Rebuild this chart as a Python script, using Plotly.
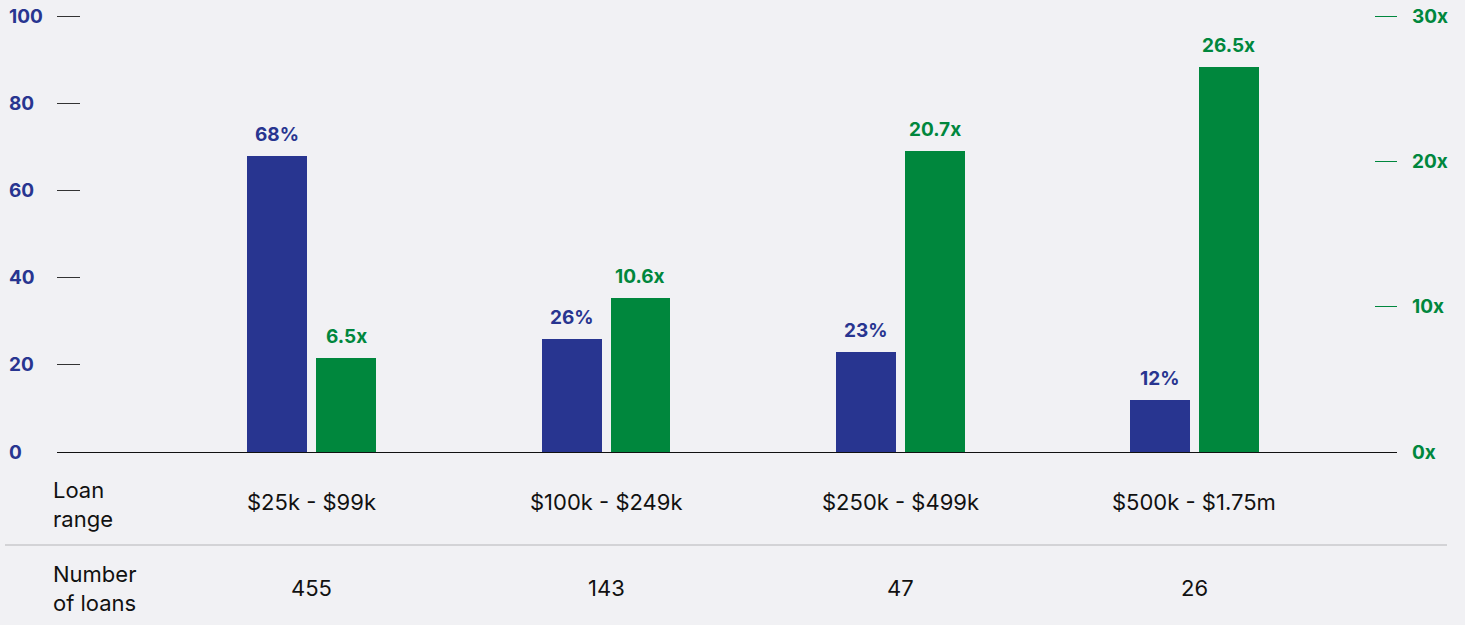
import plotly.graph_objects as go

# Data
loan_ranges = ["$25k - $99k", "$100k - $249k", "$250k - $499k", "$500k - $1.75m"]
share_pct = [68, 26, 23, 12]
multiple_x = [6.5, 10.6, 20.7, 26.5]
loan_counts = [455, 143, 47, 26]
left_ticks = [0, 20, 40, 60, 80, 100]
right_ticks = [0, 10, 20, 30]

BLUE = "#283590"
GREEN = "#00873D"
BG = "#F1F1F4"
FONT = "Inter"
BOLD_SIZE = 19
TEXT_SIZE = 22

xs = list(range(len(loan_ranges)))
bar_w = 0.204
gap = 0.0306

fig = go.Figure()
fig.add_trace(go.Bar(
    x=xs, y=share_pct, width=bar_w, offset=-bar_w - gap / 2,
    marker=dict(color=BLUE, line=dict(width=0)), yaxis="y", showlegend=False,
))
fig.add_trace(go.Bar(
    x=xs, y=multiple_x, width=bar_w, offset=gap / 2,
    marker=dict(color=GREEN, line=dict(width=0)), yaxis="y2", showlegend=False,
))

ann = []
# value labels above bars
for i, v in enumerate(share_pct):
    ann.append(dict(x=i - bar_w / 2 - gap / 2, y=v, xref="x", yref="y", text=f"<b>{v}%</b>",
                    showarrow=False, yanchor="bottom", yshift=8,
                    font=dict(family=FONT, size=BOLD_SIZE, color=BLUE)))
for i, v in enumerate(multiple_x):
    ann.append(dict(x=i + bar_w / 2 + gap / 2, y=v, xref="x", yref="y2", text=f"<b>{v}x</b>",
                    showarrow=False, yanchor="bottom", yshift=8,
                    font=dict(family=FONT, size=BOLD_SIZE, color=GREEN)))
# axis labels
for t in left_ticks:
    ann.append(dict(x=-0.0373, y=t, xref="paper", yref="y", text=f"<b>{t}</b>",
                    showarrow=False, xanchor="left", yanchor="middle",
                    font=dict(family=FONT, size=BOLD_SIZE, color=BLUE)))
for t in right_ticks:
    ann.append(dict(x=1.0097, y=t, xref="paper", yref="y2", text=f"<b>{t}x</b>",
                    showarrow=False, xanchor="left", yanchor="middle",
                    font=dict(family=FONT, size=BOLD_SIZE, color=GREEN)))
# table rows under the chart
for i, (lab, n) in enumerate(zip(loan_ranges, loan_counts)):
    ann.append(dict(x=i, y=0, xref="x", yref="paper", text=lab, showarrow=False,
                    yanchor="middle", yshift=-50,
                    font=dict(family=FONT, size=TEXT_SIZE, color="#111111")))
    ann.append(dict(x=i, y=0, xref="x", yref="paper", text=str(n), showarrow=False,
                    yanchor="middle", yshift=-136,
                    font=dict(family=FONT, size=TEXT_SIZE, color="#111111")))
ann.append(dict(x=-0.0045, y=0, xref="paper", yref="paper", text="Loan<br>range",
                showarrow=False, xanchor="left", yanchor="middle", align="left", yshift=-52,
                font=dict(family=FONT, size=TEXT_SIZE, color="#111111")))
ann.append(dict(x=-0.0045, y=0, xref="paper", yref="paper", text="Number<br>of loans",
                showarrow=False, xanchor="left", yanchor="middle", align="left", yshift=-136,
                font=dict(family=FONT, size=TEXT_SIZE, color="#111111")))

# plot area extends a few px above the top tick so that tick is drawn
fig.update_layout(
    width=1465, height=625,
    margin=dict(l=57, r=68, t=10, b=173),
    paper_bgcolor=BG, plot_bgcolor=BG,
    bargap=0, annotations=ann,
    xaxis=dict(range=[-0.867, 3.69], showgrid=False, zeroline=False,
               showticklabels=False, ticks="", showline=True,
               linecolor="#111111", linewidth=1),
    yaxis=dict(range=[0, 101.376], showgrid=False, zeroline=False, showticklabels=False,
               ticks="inside", ticklen=23, tickwidth=1, tickcolor="#333333",
               tickvals=[20, 40, 60, 80, 100]),
    yaxis2=dict(range=[0, 30.413], overlaying="y", side="right", showgrid=False,
                zeroline=False, showticklabels=False, ticks="inside", ticklen=22,
                tickwidth=1, tickcolor=GREEN, tickvals=[10, 20, 30]),
    shapes=[dict(type="line", xref="paper", yref="paper", x0=-0.0388, x1=1.0373,
                 y0=-0.2133 * 436 / 442, y1=-0.2133 * 436 / 442,
                 line=dict(color="#D3D3D6", width=2))],
)

fig.write_html("out.html")
